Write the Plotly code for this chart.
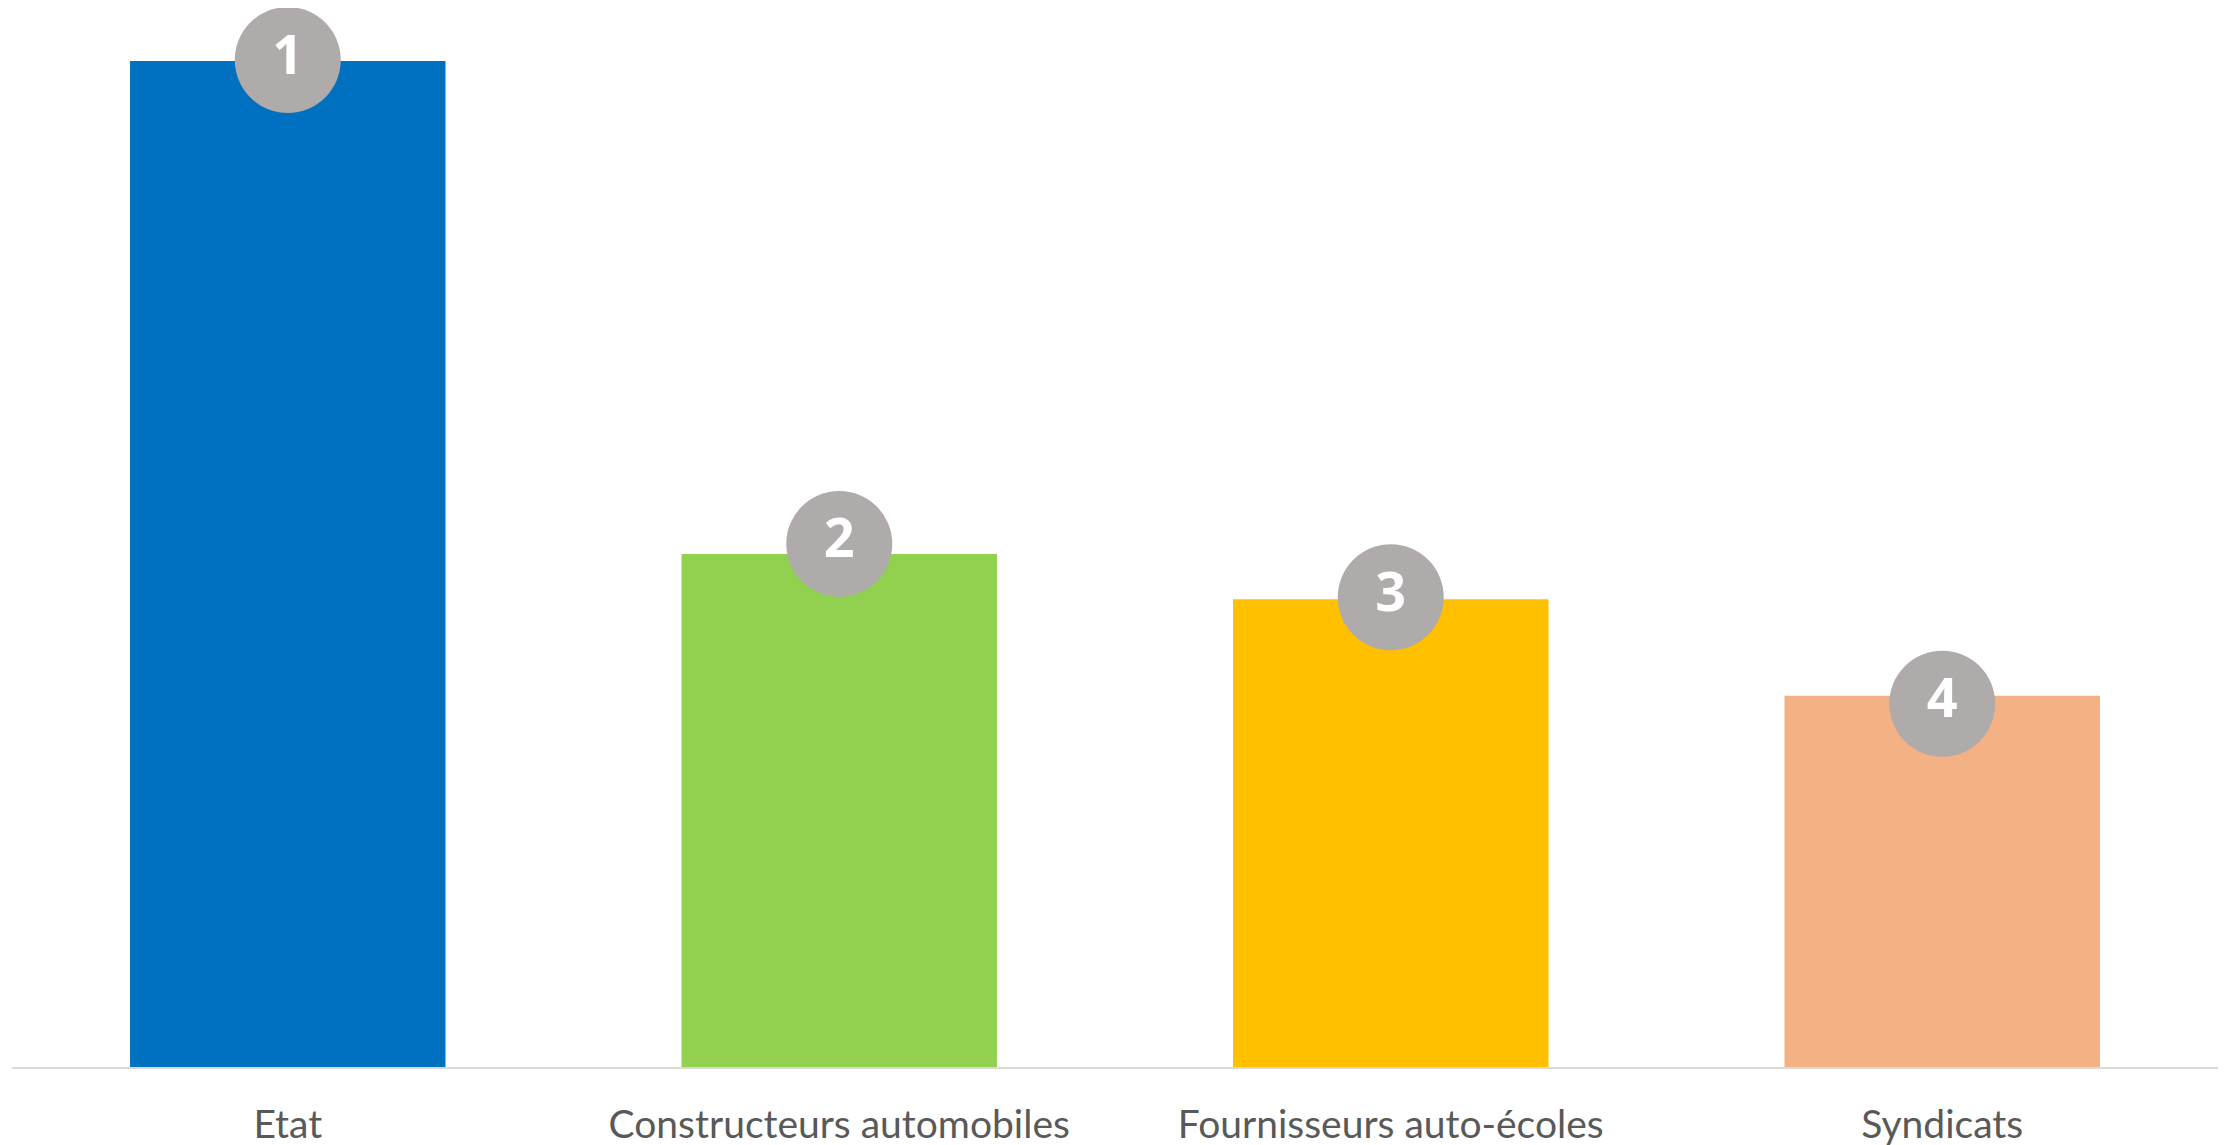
import plotly.graph_objects as go

categories = ["Etat", "Constructeurs automobiles", "Fournisseurs auto-écoles", "Syndicats"]
bar_values = [100, 51.0, 46.5, 36.9]
rank_values = [100.1, 52.0, 46.7, 36.1]
rank_labels = ["1", "2", "3", "4"]
bar_colors = ["#0070C0", "#92D050", "#FFC000", "#F4B183"]

fig = go.Figure()
fig.add_trace(go.Bar(
    x=categories, y=bar_values,
    marker=dict(color=bar_colors, line=dict(width=0)),
    hoverinfo="skip", showlegend=False,
))
fig.add_trace(go.Scatter(
    x=categories, y=rank_values,
    mode="markers+text",
    text=rank_labels,
    textposition="middle center",
    textfont=dict(family="Open Sans", size=54, color="white", weight="bold"),
    marker=dict(size=106, color="#AEABAA", line=dict(width=0)),
    cliponaxis=False, showlegend=False, hoverinfo="skip",
))

fig.update_layout(
    width=2226, height=1137,
    margin=dict(l=4, r=16, t=0, b=78, pad=0),
    paper_bgcolor="white", plot_bgcolor="white",
    bargap=0.428,
    showlegend=False,
    xaxis=dict(
        range=[-0.5, 3.5], fixedrange=True,
        showline=True, linecolor="#D9D9D9", linewidth=2,
        showgrid=False, zeroline=False,
        ticks="outside", ticklen=22, tickcolor="rgba(0,0,0,0)",
        tickfont=dict(family="Lato", size=39, color="#595959"),
    ),
    yaxis=dict(visible=False, range=[0, 105.27], showgrid=False, zeroline=False),
)

fig.write_html("out.html")
